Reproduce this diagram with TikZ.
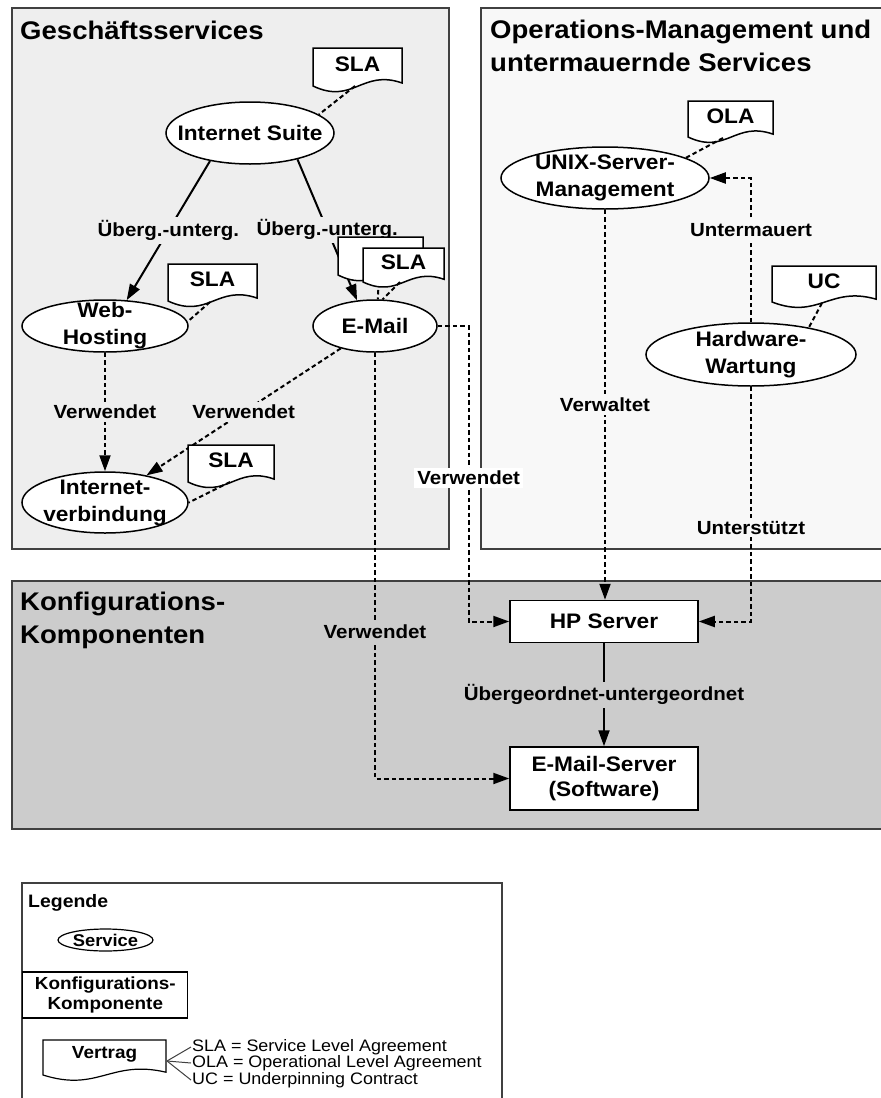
\documentclass[tikz,border=0pt]{standalone}
\usepackage{fontspec}
\setmainfont{Liberation Sans}[FakeStretch=1.08]
\usetikzlibrary{arrows.meta,shapes.geometric,calc}

\definecolor{bizfill}{HTML}{EEEEEE}
\definecolor{opsfill}{HTML}{F8F8F8}
\definecolor{cifill}{HTML}{CCCCCC}
\definecolor{frame}{HTML}{404040}

\tikzset{
  panel/.style={draw=frame, line width=2pt},
  paneltitle/.style={font=\bfseries\fontsize{25.5}{33}\selectfont, anchor=north west, inner sep=0pt, align=left},
  svc/.style={ellipse, draw=black, line width=1.5pt, fill=white, inner sep=0pt},
  svctext/.style={font=\bfseries\fontsize{21}{27}\selectfont, align=center, inner sep=0pt},
  ci/.style={rectangle, draw=black, line width=1.5pt, fill=white, font=\bfseries\fontsize{21}{25}\selectfont, align=center, inner sep=0pt},
  doctext/.style={font=\bfseries\fontsize{21}{25}\selectfont, inner sep=0pt},
  docshape/.style={draw=black, line width=1.5pt, fill=white},
  rel/.style={line width=2pt, -{Triangle[length=16pt,width=11pt]}},
  uses/.style={rel, dash pattern=on 4.5pt off 3pt},
  link/.style={line width=2pt, dash pattern=on 4.5pt off 3pt},
  lbl/.style={font=\bfseries\fontsize{19}{23}\selectfont, inner sep=3pt},
  legbold/.style={font=\bfseries\fontsize{18}{20}\selectfont, inner sep=0pt, align=center},
  legtext/.style={font=\fontsize{16.6}{18}\selectfont, inner sep=1pt, anchor=west},
}

% contract document: name, left x, top y, right x, wave baseline y, text
\newcommand{\contract}[6]{%
  \draw[docshape] (#2,#3) -- (#4,#3) -- (#4,{#5-0.08*(#5-#3)})
    .. controls ({#2+0.55*(#4-#2)},{#5-0.45*(#5-#3)}) and ({#2+0.45*(#4-#2)},{#5+0.5*(#5-#3)}) .. (#2,#5) -- cycle;
  \node[doctext] (#1) at ({(#2+#4)/2},{#3+0.42*(#5-#3)}) {#6};
}

\begin{document}
\begin{tikzpicture}[x=1pt,y=-1pt]
\useasboundingbox (0,0) rectangle (881,1098);
\clip (0,0) rectangle (881,1098);

% swim lanes
\draw[panel, fill=bizfill] (12,8) rectangle (449,549);
\draw[panel, fill=opsfill] (481,8) rectangle (895,549);
\draw[panel, fill=cifill] (12,581) rectangle (895,829);

\node[paneltitle] (t-biz) at (20,20.5) {Geschäftsservices};
\node[paneltitle] (t-ops) at (490,20) {Operations-Management und\\untermauernde Services};
\node[paneltitle] (t-ci) at (20,591.5) {Konfigurations-\\Komponenten};

% services
\node[svc, minimum width=168, minimum height=62] (is) at (250,133) {};
\node[svctext] (is-t) at (is) {Internet Suite};
\node[svc, minimum width=166, minimum height=52] (wh) at (105,326) {};
\node[svctext] (wh-t) at (wh) {Web-\\Hosting};
\node[svc, minimum width=124, minimum height=52] (em) at (375,326) {};
\node[svctext] (em-t) at (em) {E-Mail};
\node[svc, minimum width=166, minimum height=61] (inet) at (105,502.5) {};
\node[svctext] (inet-t) at (inet) {Internet-\\verbindung};
\node[svc, minimum width=208, minimum height=62] (unix) at (605,178) {};
\node[svctext] (unix-t) at (unix) {UNIX-Server-\\Management};
\node[svc, minimum width=210, minimum height=63] (hw) at (751,354.5) {};
\node[svctext] (hw-t) at (hw) {Hardware-\\Wartung};

% configuration items
\node[ci, minimum width=188, minimum height=42] (hp) at (604,621.5) {HP Server};
\node[ci, minimum width=188, minimum height=63] (emsrv) at (604,778.5) {E-Mail-Server\\(Software)};

% relationships
\draw[rel] (is.215) -- node[lbl, fill=bizfill] (l-is-wh) {Überg.-unterg.} (wh.50);
\draw[rel] (is.331) -- node[lbl, fill=bizfill] (l-is-em) {Überg.-unterg.} (em.125);
\draw[uses] (wh) -- node[lbl, fill=bizfill] (l-wh-inet) {Verwendet} (inet);
\draw[uses] (em) -- node[lbl, fill=bizfill] (l-em-inet) {Verwendet} (inet);
\draw[uses] (em.east) -- ++(31,0) |- node[lbl, fill=white, pos=0.257] (l-em-hp) {Verwendet} (hp.west);
\draw[uses] (em.south) |- node[lbl, fill=cifill, pos=0.328] (l-em-srv) {Verwendet} (emsrv.west);
\draw[uses] (unix.south) -- node[lbl, fill=opsfill] (l-unix-hp) {Verwaltet} (unix.south |- hp.north);
\draw[uses] (hw.north) |- node[lbl, fill=opsfill, pos=0.32] (l-hw-unix) {Untermauert} (unix.east);
\draw[uses] (hw.south) |- node[lbl, fill=opsfill, pos=0.30] (l-hw-hp) {Unterstützt} (hp.east);
\draw[rel] (hp) -- node[lbl, fill=cifill] (l-hp-srv) {Übergeordnet-untergeordnet} (emsrv);

% contracts
\contract{sla-is}{313}{48}{402}{86}{SLA}
\coordinate (sla-is-c) at (355,86);
\draw[link] (sla-is-c) -- (is.15);

\contract{sla-wh}{168}{264}{257}{301}{SLA}
\coordinate (sla-wh-c) at (210,302);
\draw[link] (sla-wh-c) -- (wh.3);

\contract{sla-emb}{338}{237}{423}{275}{}
\coordinate (sla-emb-c) at (379,275);
\draw[link] (sla-emb-c) -- (em.84);

\contract{sla-emf}{363}{248}{444}{282}{SLA}
\coordinate (sla-emf-c) at (400,282);
\draw[link] (sla-emf-c) -- (em.74);

\contract{sla-inet}{188}{445}{274}{482}{SLA}
\coordinate (sla-inet-c) at (230,482);
\draw[link] (sla-inet-c) -- (inet.east);

\contract{ola}{688}{101}{773}{137}{OLA}
\coordinate (ola-c) at (723,138);
\draw[link] (ola-c) -- (unix.14);

\contract{uc}{772}{266}{876}{302}{UC}
\coordinate (uc-c) at (822,303);
\draw[link] (uc-c) -- (hw.25);

% legend
\draw[frame, line width=1.5pt] (22,1110) -- (22,883) -- (502,883) -- (502,1110);
\node[legbold, anchor=west] (leg-t) at (28,903) {Legende};
\node[svc, line width=1.2pt, minimum width=95, minimum height=22] (leg-svc) at (105.5,940) {};
\node[legbold, font=\bfseries\fontsize{17}{20}\selectfont] (leg-svc-t) at (leg-svc) {Service};
\node[ci, line width=1.2pt, minimum width=165, minimum height=46, font=\bfseries\fontsize{17.5}{20}\selectfont] (leg-ci) at (105.3,995) {Konfigurations-\\Komponente};
\begin{scope}[docshape/.append style={line width=1.2pt}, doctext/.append style={font=\bfseries\fontsize{17.5}{20}\selectfont}]
\contract{leg-doc}{43}{1040}{166}{1075}{Vertrag}
\end{scope}
\coordinate (leg-doc-r) at (167,1061);
\node[legtext] (def-sla) at (191,1047) {SLA = Service Level Agreement};
\node[legtext] (def-ola) at (191,1063) {OLA = Operational Level Agreement};
\node[legtext] (def-uc) at (191,1080) {UC = Underpinning Contract};
\draw[frame, line width=1pt] (leg-doc-r) -- (def-sla.west);
\draw[frame, line width=1pt] (leg-doc-r) -- (def-ola.west);
\draw[frame, line width=1pt] (leg-doc-r) -- (def-uc.west);
\end{tikzpicture}
\end{document}
